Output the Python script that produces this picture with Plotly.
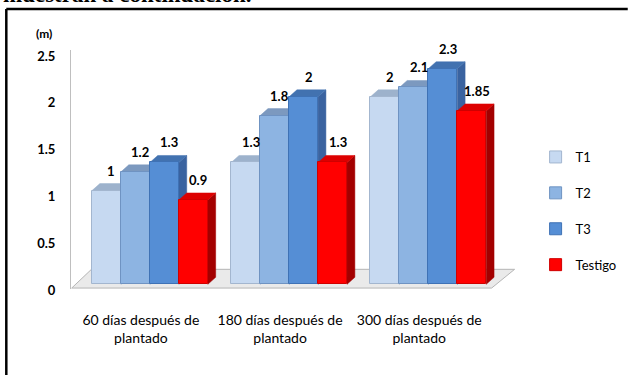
import plotly.graph_objects as go

# Data
categories = ["60 días después de<br>plantado",
              "180 días después de<br>plantado",
              "300 días después de<br>plantado"]
series_names = ["T1", "T2", "T3", "Testigo"]
t1 = [1, 1.3, 2]
t2 = [1.2, 1.8, 2.1]
t3 = [1.3, 2, 2.3]
testigo = [0.9, 1.3, 1.85]
y_ticks = [0, 0.5, 1, 1.5, 2, 2.5]
y_tick_labels = ["0", "0.5", "1", "1.5", "2", "2.5"]

series_values = [t1, t2, t3, testigo]

# Face colours: front, top, side
front_colors = ["#C6D9F1", "#8DB4E2", "#558ED5", "#FF0000"]
top_colors = ["#9DB2CC", "#7C99BF", "#4272B0", "#DD0000"]
side_colors = ["#8A9FBA", "#6D89B0", "#3A63A0", "#A30000"]
edge_colors = ["#A3B6CF", "#6F93C2", "#3F72B5", "#D00000"]

W, H = 634, 375
margin = dict(l=71, r=109, t=50, b=86)
plot_w = W - margin["l"] - margin["r"]
plot_h = H - margin["t"] - margin["b"]

x_range = [-0.567, 2.63]
y_range = [-0.05, 2.5]

bar_w = 0.208           # width of one bar in category units
depth_px = (8, 7)       # pseudo-3D depth offset in pixels
dx = depth_px[0] * (x_range[1] - x_range[0]) / plot_w
dy = depth_px[1] * (y_range[1] - y_range[0]) / plot_h

font = "Lato, 'Open Sans', sans-serif"


def px_to_paper_x(px):
    return (px - margin["l"]) / plot_w


def px_to_paper_y(py):
    return (H - margin["b"] - py) / plot_h


fig = go.Figure()
shapes = []

# Floor slab under the bars
floor_front = -0.04
floor_back = floor_front + 0.2
shapes.append(dict(
    type="path", xref="x", yref="y", layer="below",
    path=(f"M {x_range[0] + 0.005},{floor_front} L 2.455,{floor_front} "
          f"L 2.62,{floor_back} L -0.42,{floor_back} Z"),
    fillcolor="#EAEAEA", line=dict(color="#B5B5B5", width=1),
))

group_idx = list(range(len(categories)))
for s, (name, vals) in enumerate(zip(series_names, series_values)):
    xs = [g + (s - 1.5) * bar_w for g in group_idx]
    # Top and side faces sit underneath the front faces of the bars
    for x, v in zip(xs, vals):
        x0, x1 = x - bar_w / 2, x + bar_w / 2
        shapes.append(dict(
            type="path", xref="x", yref="y", layer="below",
            path=f"M {x1},0 L {x1 + dx},{dy} L {x1 + dx},{v + dy} L {x1},{v} Z",
            fillcolor=side_colors[s], line=dict(color=side_colors[s], width=0.5),
        ))
        shapes.append(dict(
            type="path", xref="x", yref="y", layer="below",
            path=f"M {x0},{v} L {x0 + dx},{v + dy} L {x1 + dx},{v + dy} L {x1},{v} Z",
            fillcolor=top_colors[s], line=dict(color=top_colors[s], width=0.5),
        ))
    fig.add_trace(go.Bar(
        x=xs, y=vals, width=bar_w, name=name,
        marker=dict(color=front_colors[s], line=dict(color=edge_colors[s], width=1)),
        legendgroup=name, showlegend=True,
    ))

# Value labels above each bar
annotations = []
for s, vals in enumerate(series_values):
    for g, v in zip(group_idx, vals):
        annotations.append(dict(
            x=g + (s - 1.5) * bar_w, y=v, xref="x", yref="y",
            text=f"<b>{v:g}</b>", showarrow=False, xshift=5, yshift=20,
            yanchor="middle", font=dict(family=font, size=13, color="#000000"),
        ))

# Axis unit
annotations.append(dict(
    x=px_to_paper_x(43), y=px_to_paper_y(33), xref="paper", yref="paper",
    text="<b>(m)</b>", showarrow=False, xanchor="center", yanchor="middle",
    font=dict(family=font, size=12, color="#000000"),
))

# Sentence from the surrounding document, cut by the top edge
annotations.append(dict(
    x=px_to_paper_x(0), y=px_to_paper_y(9), xref="paper", yref="paper",
    text="<b>muestran a continuación.</b>", showarrow=False,
    xanchor="left", yanchor="bottom",
    font=dict(family="'Liberation Serif', serif", size=23, color="#000000"),
))

# Frame around the chart
shapes.append(dict(type="line", xref="paper", yref="paper",
                   x0=px_to_paper_x(5), x1=px_to_paper_x(W + 5),
                   y0=px_to_paper_y(9), y1=px_to_paper_y(9),
                   line=dict(color="#000000", width=2.5), layer="above"))
shapes.append(dict(type="line", xref="paper", yref="paper",
                   x0=px_to_paper_x(5), x1=px_to_paper_x(5),
                   y0=px_to_paper_y(9), y1=px_to_paper_y(H + 5),
                   line=dict(color="#000000", width=2.5), layer="above"))

fig.update_layout(
    width=W, height=H, margin=margin,
    paper_bgcolor="white", plot_bgcolor="rgba(0,0,0,0)",
    barmode="overlay", bargap=0,
    shapes=shapes, annotations=annotations,
    font=dict(family=font, size=13, color="#000000"),
    showlegend=True,
    legend=dict(
        x=px_to_paper_x(545), y=px_to_paper_y(142), xanchor="left", yanchor="top",
        traceorder="grouped", tracegroupgap=16, itemwidth=30,
        font=dict(family=font, size=13, color="#000000"),
        bgcolor="rgba(0,0,0,0)",
    ),
    xaxis=dict(
        range=x_range, tickmode="array",
        tickvals=[g - 0.065 for g in group_idx], ticktext=categories,
        showgrid=False, zeroline=False, showline=False, ticks="",
        ticklabelstandoff=21,
        tickfont=dict(family=font, size=14, color="#000000"),
        fixedrange=True,
    ),
    yaxis=dict(
        range=y_range, tickmode="array", tickvals=y_ticks, ticktext=y_tick_labels,
        showgrid=False, zeroline=False, showline=True, linecolor="#BFBFBF", linewidth=1,
        ticks="", ticklabelstandoff=12, ticklabelshift=6,
        tickfont=dict(family=font, size=13, color="#000000", weight="bold"),
        fixedrange=True,
    ),
)

fig.write_html("out.html")
